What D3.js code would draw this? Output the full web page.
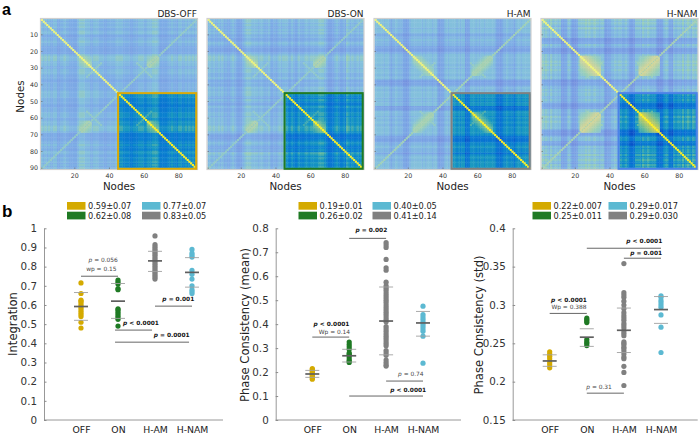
<!DOCTYPE html>
<html><head><meta charset="utf-8">
<script src="https://cdnjs.cloudflare.com/ajax/libs/d3/7.8.5/d3.min.js"></script>
<style>
html,body{margin:0;padding:0;background:#fff}
svg{display:block;font-family:"DejaVu Sans",sans-serif}
.heat{filter:blur(0.55px)}
</style></head><body>
<svg id="c" width="700" height="434"></svg>
<script>
// ---------- panel a data (levels 0-9 estimated per node, node 1..90) ----------
const nodes = d3.range(1, 91);
const matrixNames = ["DBS-OFF", "DBS-ON", "H-AM", "H-NAM"];
const matrixFrameColors = ["#d9a908", "#1f7a24", "#808080", "#4a82e8"];
const levelsOFF = "656565566445565544444677766655666555445555566" + "665555445556665566677764444455655466556565656";
const levelsON  = "665655656454456543335677766665665556445456566" + "654654465556656666677765333456544547656556566";
const levelsHAM = "666665665355655533235666666565666566323356566" + "665656623366656566566666533235565553566566666";
const levelsHNAM= "767657566562233652223666676766766566223355656" + "655653223666576676666322256633265665756765767";
const matrixLevels = [levelsOFF, levelsON, levelsHAM, levelsHNAM];
const hotBlocks = [
  [[23, 29, 7.5, 0.22]],
  [[23, 29, 7.6, 0.22]],
  [[23, 34, 7.5, 0.26]],
  [[23, 34, 8.2, 0.17]]
];
const lobes = [[31, 4, 6.6], [31, 4, 6.5], [31, 4, 6.7], [31, 4, 7.0]];
const antiLevels = [6.6, 6.6, 7.1, 7.2];

// ---------- panel b data ----------
const groups = ["OFF", "ON", "H-AM", "H-NAM"];
const groupColors = {"OFF":"#d4aa00", "ON":"#1f7a24", "H-AM":"#808080", "H-NAM":"#5cb9d2"};

const integOFF = [0.48,0.51,0.54,0.55,0.56,0.57,0.58,0.59,0.60,0.61,0.62,0.625,0.66,0.715];
const integON = [0.49,0.525,0.535,0.545,0.555,0.565,0.575,0.58,0.68,0.685,0.71,0.72,0.73];
const integHAM = [0.735,0.745,0.755,0.765,0.775,0.785,0.795,0.805,0.815,0.825,0.835,0.845,0.855,0.865,0.875,0.885,0.895,0.905,0.915,0.96];
const integHNAM = [0.66,0.67,0.68,0.70,0.735,0.76,0.78,0.85,0.86,0.87,0.89];

const pmeanOFF = [0.17,0.175,0.18,0.185,0.19,0.195,0.20,0.205,0.21,0.215];
const pmeanON = [0.24,0.245,0.25,0.26,0.27,0.275,0.28,0.295,0.305,0.315,0.325];
const pmeanHAM = [0.225,0.23,0.24,0.25,0.27,0.28,0.29,0.31,0.32,0.33,0.34,0.35,0.36,0.37,0.38,0.39,0.41,0.42,0.43,0.44,0.45,0.46,0.47,0.48,0.49,0.50,0.51,0.52,0.53,0.54,0.55,0.56,0.575,0.625,0.635,0.67,0.72,0.73,0.74];
const pmeanHNAM = [0.237,0.35,0.37,0.38,0.39,0.40,0.41,0.42,0.43,0.44,0.475];

const pstdOFF = [0.218,0.222,0.225,0.23,0.233,0.236,0.239];
const pstdON = [0.247,0.25,0.252,0.255,0.277,0.279,0.281,0.283];
const pstdHAM = [0.195,0.212,0.22,0.23,0.232,0.236,0.24,0.243,0.245,0.248,0.25,0.252,0.26,0.263,0.266,0.27,0.273,0.276,0.28,0.283,0.286,0.29,0.295,0.30,0.305,0.31,0.313,0.316,0.354];
const pstdHNAM = [0.238,0.271,0.287,0.297,0.30,0.303,0.306,0.31,0.312];

// [mean, lower, upper]
const integLines = [[0.592,0.52,0.665],[0.62,0.53,0.712],[0.83,0.775,0.88],[0.77,0.693,0.847]];
const pmeanLines = [[0.192,0.178,0.207],[0.268,0.242,0.295],[0.413,0.272,0.555],[0.405,0.35,0.453]];
const pstdLines = [[0.227,0.22,0.235],[0.258,0.246,0.269],[0.267,0.238,0.296],[0.294,0.276,0.311]];

const integLegend = ["0.59±0.07","0.62±0.08","0.83±0.05","0.77±0.07"];
const pmeanLegend = ["0.19±0.01","0.26±0.02","0.41±0.14","0.40±0.05"];
const pstdLegend = ["0.22±0.007","0.25±0.011","0.29±0.030","0.29±0.017"];

const integTicks = d3.range(0, 11).map(d => d/10);
const pmeanTicks = d3.range(0, 9).map(d => d/10);
const pstdTicks = [0.15,0.2,0.25,0.3,0.35,0.4];

// [from group idx, to group idx, y value, [label parts...]]
const integSig = [
  [0,1,0.75,[["p = 0.056",false,0.6,14],["wp = 0.15",false,0.55,5]]],
  [2,3,0.594,[["p = 0.001",true,2.63,5]]],
  [0.92,1.92,0.469,[["p < 0.0001",true,1.62,5]]],
  [0.92,2.92,0.406,[["p = 0.0001",true,2.45,5]]]
];
const pmeanSig = [
  [1,2,0.758,[["p = 0.002",true,1.6,6]]],
  [0,1,0.346,[["p < 0.0001",true,0.52,11],["Wp = 0.14",false,0.6,3]]],
  [2,3,0.1625,[["p = 0.74",false,2.67,5]]],
  [1,3,0.1,[["p < 0.0001",true,2.6,4]]]
];
const pstdSig = [
  [0,1,0.289,[["p < 0.0001",true,0.52,11],["Wp = 0.388",false,0.52,4]]],
  [1,2,0.185,[["p = 0.31",false,1.33,4]]],
  [1,3,0.374,[["p < 0.0001",true,2.55,5]]],
  [2,3,0.361,[["p = 0.001",true,2.6,3]]]
];

const svg = d3.select("#c");

// ---------- panel a ----------
const outerColor = d3.scaleLinear()
  .domain([0,3,5,6,7,8,9])
  .range(["#6a80d8","#7898e2","#7eaee6","#84c0dc","#9acfb8","#cfd49a","#eef47a"]).clamp(true);
const innerColor = d3.scaleLinear()
  .domain([0,2,3.5,5,6,7,8,9])
  .range(["#0a3cc0","#0a50c8","#0a6cd4","#0a80d0","#1a98c0","#60b8a0","#c0cc60","#fff020"]).clamp(true);

function cellValue(m, r, c) {
  const lv = matrixLevels[m];
  let v = (+lv[r-1] + +lv[c-1]) / 2;
  if (r === c) return 9;
  if (r + c === 91) return Math.max(v, antiLevels[m]);
  const spine = Math.min(Math.abs(r-c), Math.abs(r+c-91));
  for (const [a,b,level,fall] of hotBlocks[m]) {
    const rl = Math.min(r, 91-r), cl = Math.min(c, 91-c);
    if (rl>=a && rl<=b && cl>=a && cl<=b) v = Math.max(v, level - fall*spine);
  }
  const [ctr, half, lev] = lobes[m];
  const rl = Math.min(r, 91-r), cl = Math.min(c, 91-c);
  if (rl + cl === 2*ctr && Math.abs(rl-cl) <= 2*half) v = Math.max(v, lev);
  return v;
}

const matrixLeft = [41, 207.5, 374.5, 541.5];
const matrixW = 156;
const yM = d3.scaleBand().domain(nodes).range([19, 169]);

matrixNames.forEach((name, m) => {
  const xM = d3.scaleBand().domain(nodes).range([matrixLeft[m], matrixLeft[m]+matrixW]);
  const g = svg.append("g");
  const cells = [];
  nodes.forEach(r => nodes.forEach(c => cells.push({r, c, v: cellValue(m, r, c)})));
  cells.sort((a,b) => a.v - b.v);
  g.append("g").attr("class","heat").selectAll("rect").data(cells).join("rect")
    .attr("x", d => xM(d.c)).attr("y", d => yM(d.r))
    .attr("width", xM.bandwidth()+0.4).attr("height", yM.bandwidth()+0.4)
    .attr("fill", d => (d.r>=46 && d.c>=46) ? innerColor(d.v) : outerColor(d.v));
  g.append("rect").attr("x", matrixLeft[m]-0.5).attr("y", 18.5)
    .attr("width", matrixW+1).attr("height", 151)
    .attr("fill","none").attr("stroke","#cfcfcf").attr("stroke-width",1.2);

  const xAxis = d3.axisBottom(xM).tickValues([20,40,60,80]).tickSize(0).tickPadding(5);
  g.append("g").attr("transform","translate(0,169)").call(xAxis)
    .call(s => s.select(".domain").remove())
    .call(s => s.selectAll("text").attr("font-size",6.3).attr("fill","#333").attr("font-family",'"DejaVu Sans"'));
  [20,40,60,80].forEach(t => {
    g.append("line").attr("x1",xM(t)+xM.bandwidth()/2).attr("x2",xM(t)+xM.bandwidth()/2).attr("y1",169).attr("y2",167.5).attr("stroke","#666").attr("stroke-width",0.6);
  });
  [10,20,30,40,50,60,70,80,90].forEach(t => {
    g.append("line").attr("x1",matrixLeft[m]).attr("x2",matrixLeft[m]+1.5).attr("y1",yM(t)+yM.bandwidth()/2).attr("y2",yM(t)+yM.bandwidth()/2).attr("stroke","#666").attr("stroke-width",0.6);
  });
  if (m === 0) {
    const yAxis = d3.axisLeft(yM).tickValues([10,20,30,40,50,60,70,80,90]).tickSize(0).tickPadding(3);
    g.append("g").attr("transform",`translate(${matrixLeft[m]},0)`).call(yAxis)
      .call(s => s.select(".domain").remove())
      .call(s => s.selectAll("text").attr("font-size",6.3).attr("fill","#333").attr("font-family",'"DejaVu Sans"'));
    g.append("text").attr("transform","translate(24,96.5) rotate(-90)").attr("text-anchor","middle")
      .attr("font-size",10.3).attr("fill","#222").text("Nodes");
  }
  // highlighted quadrant
  g.append("rect")
    .attr("x", xM(45)+0.8).attr("y", yM(45)+0.8)
    .attr("width", xM(90)+xM.bandwidth()-xM(45)-1.6)
    .attr("height", yM(90)+yM.bandwidth()-yM(45)-1)
    .attr("fill","none").attr("stroke",matrixFrameColors[m]).attr("stroke-width",2);
  g.append("text").attr("x",matrixLeft[m]+matrixW).attr("y",16.5).attr("text-anchor","end")
    .attr("font-size",9).attr("fill","#222").text(name);
  g.append("text").attr("x",matrixLeft[m]+matrixW/2).attr("y",189.5).attr("text-anchor","middle")
    .attr("font-size",10.3).attr("fill","#222").text("Nodes");
});

svg.append("text").attr("x",2).attr("y",14.6).attr("font-family",'"Liberation Sans"').attr("font-weight","bold").attr("font-size",16).text("a");
svg.append("text").attr("x",2).attr("y",217).attr("font-family",'"Liberation Sans"').attr("font-weight","bold").attr("font-size",17).text("b");

// ---------- panel b ----------
function panel(o) {
  const g = svg.append("g");
  const x = d3.scalePoint().domain(groups).range(o.catRange);
  const xI = d3.scaleLinear().domain([0,3]).range(o.catRange);
  const y = d3.scaleLinear().domain(o.yDomain).range([420,228.3]);

  const ay = d3.axisLeft(y).tickValues(o.ticks).tickFormat(d3.format(o.fmt||"")).tickSizeInner(-2.5).tickSizeOuter(0).tickPadding(7);
  g.append("g").attr("transform",`translate(${o.left},0)`).call(ay)
    .call(s => s.select(".domain").attr("stroke","#8c8c8c").attr("stroke-width",0.9))
    .call(s => s.selectAll(".tick line").attr("stroke","#8c8c8c"))
    .call(s => s.selectAll("text").attr("font-size",10.3).attr("fill","#333").attr("font-family",'"DejaVu Sans"'));
  const ax = d3.axisBottom(x).tickSize(0).tickPadding(6);
  g.append("g").attr("transform","translate(0,420)").call(ax)
    .call(s => s.select(".domain").remove())
    .call(s => s.selectAll("text").attr("font-size",9.3).attr("fill","#222").attr("font-family",'"DejaVu Sans"'));
  g.append("line").attr("x1",o.left).attr("x2",o.right).attr("y1",420).attr("y2",420).attr("stroke","#8c8c8c").attr("stroke-width",0.9);

  g.append("text").attr("transform",`translate(${o.yLabelX},${o.yLabelY}) rotate(-90)`).attr("text-anchor","middle")
    .attr("font-size",11.6).attr("fill","#222").text(o.label);

  groups.forEach((grp, i) => {
    g.append("g").selectAll("circle").data(o.series[i]).join("circle")
      .attr("cx", x(grp)).attr("cy", d => y(d)).attr("r", 2.6).attr("fill", groupColors[grp]);
    const [mean, lo, hi] = o.lines[i];
    [[lo,0.9,"#a0a0a0"],[hi,0.9,"#a0a0a0"],[mean,1.7,"#5f5f5f"]].forEach(([val,w,col]) => {
      g.append("line").attr("x1",x(grp)-7).attr("x2",x(grp)+7)
        .attr("y1",y(val)).attr("y2",y(val)).attr("stroke",col).attr("stroke-width",w);
    });
  });

  o.sig.forEach(([a,b,val,labels]) => {
    g.append("line").attr("x1",xI(a)).attr("x2",xI(b)).attr("y1",y(val)).attr("y2",y(val))
      .attr("stroke","#555").attr("stroke-width",0.9);
    labels.forEach(([txt,bold,cx,dy]) => {
      const t = g.append("text").attr("x",xI(cx)).attr("y",y(val)-dy).attr("text-anchor","middle")
        .attr("font-size",5.9).attr("font-weight",bold?"bold":"normal").attr("fill",bold?"#111":"#444");
      const p0 = txt.charAt(0);
      if (p0 === "p") {
        t.append("tspan").attr("font-style","italic").text("p");
        t.append("tspan").text(txt.slice(1));
      } else {
        t.text(txt);
      }
    });
  });

  // legend: rows OFF/ON then H-NAM/H-AM
  const order = [["OFF",0,0],["ON",0,1],["H-NAM",1,0],["H-AM",1,1]];
  order.forEach(([grp,col,row]) => {
    const sx = o.legX[col], sy = 202 + row*9.7;
    g.append("rect").attr("x",sx).attr("y",sy).attr("width",18.5).attr("height",7.7).attr("fill",groupColors[grp]);
    g.append("text").attr("x",sx+21).attr("y",sy+7.2).attr("font-size",8.2).attr("fill","#222")
      .text(o.legend[groups.indexOf(grp)]);
  });
}

panel({left:44,right:223,catRange:[81,192],yDomain:[0,1],ticks:integTicks,
  series:[integOFF,integON,integHAM,integHNAM],lines:integLines,sig:integSig,
  label:"Integration",yLabelX:17,yLabelY:324,legX:[67,142],legend:integLegend});
panel({left:275.7,right:461,catRange:[312.3,423],yDomain:[0,0.8],ticks:pmeanTicks,
  series:[pmeanOFF,pmeanON,pmeanHAM,pmeanHNAM],lines:pmeanLines,sig:pmeanSig,
  label:"Phase Consistency (mean)",yLabelX:249,yLabelY:325,legX:[298.5,372.5],legend:pmeanLegend});
panel({left:512.7,right:697.7,catRange:[549.7,661],yDomain:[0.15,0.4],ticks:pstdTicks,
  series:[pstdOFF,pstdON,pstdHAM,pstdHNAM],lines:pstdLines,sig:pstdSig,
  label:"Phase Consistency (std)",yLabelX:483,yLabelY:325,legX:[532.5,608.5],legend:pstdLegend});
</script>
</body></html>
